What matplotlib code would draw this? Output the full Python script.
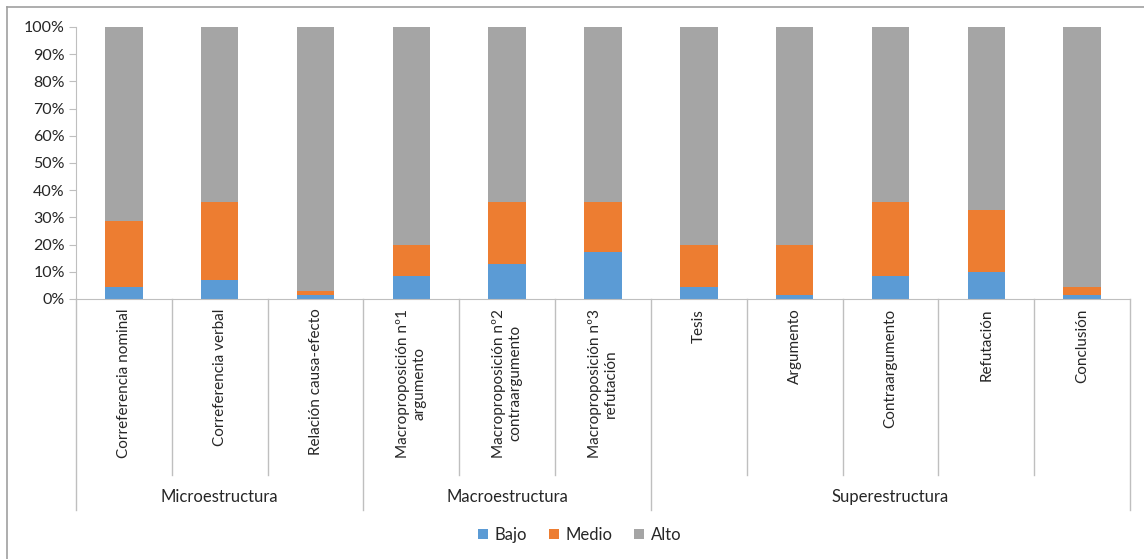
import matplotlib.pyplot as plt
import matplotlib.transforms as mtransforms
import numpy as np

plt.rcParams['font.family'] = ['Lato', 'DejaVu Sans']

# datos (porcentajes)
categorias = ['Correferencia nominal', 'Correferencia verbal', 'Relación causa-efecto',
              'Macroproposición nº1\nargumento', 'Macroproposición nº2\ncontraargumento',
              'Macroproposición nº3\nrefutación', 'Tesis', 'Argumento', 'Contraargumento',
              'Refutación', 'Conclusión']
grupos = ['Microestructura', 'Macroestructura', 'Superestructura']
grupo_inicio = [0, 3, 6]
grupo_fin = [2, 5, 10]

bajo = [4.3, 7.1, 1.4, 8.6, 12.9, 17.1, 4.3, 1.4, 8.6, 10.0, 1.4]
medio = [24.3, 28.6, 1.5, 11.4, 22.8, 18.6, 15.7, 18.6, 27.1, 22.9, 2.9]
alto = [71.4, 64.3, 97.1, 80.0, 64.3, 64.3, 80.0, 80.0, 64.3, 67.1, 95.7]

c_bajo = '#5B9BD5'
c_medio = '#ED7D31'
c_alto = '#A5A5A5'
gris = '#BFBFBF'
texto = '#262626'

W, H = 1144, 559
fig = plt.figure(figsize=(W / 100, H / 100), dpi=100)
ax = fig.add_axes([76 / W, 1 - 299 / H, (1130 - 76) / W, (299 - 27) / H])

x = np.arange(len(categorias))
b = np.array(bajo)
m = np.array(medio)
a = np.array(alto)
ax.bar(x, b, width=0.39, color=c_bajo, label='Bajo')
ax.bar(x, m, width=0.39, bottom=b, color=c_medio, label='Medio')
ax.bar(x, a, width=0.39, bottom=b + m, color=c_alto, label='Alto')

ax.set_xlim(-0.5, len(categorias) - 0.5)
ax.set_ylim(0, 100)
ax.set_yticks(range(0, 101, 10))
ax.set_yticklabels([f'{v}%' for v in range(0, 101, 10)], fontsize=11.5, color=texto)
ax.tick_params(axis='y', length=5, color=gris, pad=3)

ax.set_xticks(x)
ax.set_xticklabels(categorias, rotation=90, va='top', ha='center', fontsize=11,
                   color=texto, multialignment='center')
ax.tick_params(axis='x', length=0, pad=7)

for s in ['top', 'right']:
    ax.spines[s].set_visible(False)
ax.spines['left'].set_color(gris)
ax.spines['bottom'].set_color(gris)

# separadores del eje multinivel
trans = mtransforms.blended_transform_factory(ax.transData, ax.transAxes)
y_cat = (299 - 475) / 272
y_grp = (299 - 510) / 272
bordes_grupo = [-0.5, 2.5, 5.5, 10.5]
for i in range(len(categorias) + 1):
    xb = i - 0.5
    y_end = y_grp if xb in bordes_grupo else y_cat
    ax.plot([xb, xb], [0, y_end], color=gris, lw=1, transform=trans, clip_on=False)

for g, i0, i1 in zip(grupos, grupo_inicio, grupo_fin):
    ax.text((i0 + i1) / 2, (299 - 497) / 272, g, transform=trans, ha='center', va='center',
            fontsize=12, color=texto)

leg = fig.legend(loc='center', bbox_to_anchor=(580 / W, 1 - 535 / H), ncol=3, frameon=False,
                 fontsize=12, handlelength=0.6, handleheight=0.6, handletextpad=0.4,
                 columnspacing=1.3)
for t in leg.get_texts():
    t.set_color(texto)

# borde del area del grafico
fig.add_artist(plt.Line2D([7 / W, 7 / W], [0, 1 - 7 / H], color='#A0A0A0', lw=1.2))
fig.add_artist(plt.Line2D([7 / W, 1], [1 - 7 / H, 1 - 7 / H], color='#A0A0A0', lw=1.2))

fig.savefig('out.png', dpi=100)
